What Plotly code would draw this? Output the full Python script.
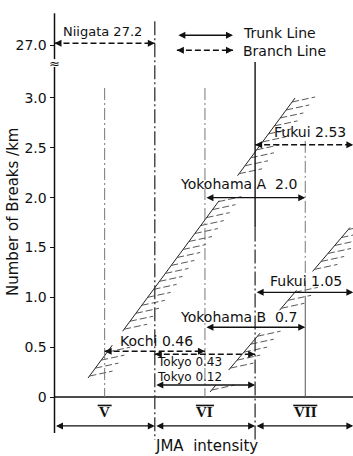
import plotly.graph_objects as go

# ---------------- data ----------------
y_tick_vals = [0, 0.5, 1.0, 1.5, 2.0, 2.5, 3.0, 27.0]
y_tick_text = ["0", "0.5", "1.0", "1.5", "2.0", "2.5", "3.0", "27.0"]

intensity_labels = ["V", "VI", "VII"]
intensity_centers = [5.0, 6.0, 7.0]
intensity_bounds = [4.5, 5.5, 6.5, 7.48]

rec_names = ["Niigata", "Fukui", "Yokohama A", "Fukui", "Yokohama B", "Kochi", "Tokyo", "Tokyo"]
rec_values = [27.2, 2.53, 2.0, 1.05, 0.7, 0.46, 0.43, 0.12]
rec_x0 = [4.5, 6.5, 6.0, 6.5, 6.0, 5.0, 5.5, 5.5]
rec_x1 = [5.5, 7.48, 7.0, 7.48, 7.0, 6.0, 6.5, 6.5]
rec_type = ["branch", "branch", "trunk", "trunk", "trunk", "branch", "branch", "trunk"]

# hatched bands (lower-left point, upper-right point)
band1_x = [4.834, 6.898]
band1_y = [0.19, 3.0]
band2_x = [6.05, 7.446]
band2_y = [0.05, 1.70]

# ---------------- layout helpers ----------------
INK = "#111111"
FONT = "DejaVu Sans"
X_RANGE = [4.5 - 54.5 / 100.3, 4.5 + (353 - 54.5) / 100.3]
Y_RANGE = [-(456 - 397) / 99.67, 397 / 99.67]


def yb(v):
    """broken-axis mapping"""
    return v if v <= 3.2 else 3.53 + (v - 27.0) * 0.1


fig = go.Figure()
shapes = []
annots = []


def seg(x0, y0, x1, y1, width=1.3, dash="solid", color=INK):
    shapes.append(dict(type="line", xref="x", yref="y", x0=x0, y0=y0, x1=x1, y1=y1,
                       line=dict(color=color, width=width, dash=dash)))


def head(x, y, ax, ay):
    annots.append(dict(x=x, y=y, ax=ax, ay=ay, xref="x", yref="y", axref="x", ayref="y",
                       text="", showarrow=True, arrowhead=2, arrowsize=1, arrowwidth=1.4,
                       arrowcolor=INK, standoff=0, startstandoff=0))


def double_arrow(x0, x1, y, kind):
    if kind == "trunk":
        annots.append(dict(x=x1, y=y, ax=x0, ay=y, xref="x", yref="y", axref="x", ayref="y",
                           text="", showarrow=True, arrowhead=2, arrowsize=1, arrowwidth=1.4,
                           arrowside="end+start", arrowcolor=INK, standoff=0, startstandoff=0))
    else:
        seg(x0, y, x1, y, width=1.5, dash="6px,3px")
        head(x1, y, x1 - 0.07, y)
        head(x0, y, x0 + 0.07, y)


def text(x, y, s, size=14, xanchor="left", yshift=0, family=FONT, angle=0):
    annots.append(dict(x=x, y=y, xref="x", yref="y", text=s, showarrow=False,
                       xanchor=xanchor, yanchor="middle", yshift=yshift, textangle=angle,
                       font=dict(family=family, size=size, color=INK)))


# ---------------- axes frame ----------------
seg(4.5, yb(27.0) + 0.32, 4.5, 3.39, width=1.5)
seg(4.5, 3.31, 4.5, -0.36, width=1.5)
text(4.5, 3.35, "≈", size=13, xanchor="center")
seg(4.5, 0, 7.49, 0, width=1.5)

# vertical guide lines
seg(5.0, 3.1, 5.0, 0, width=1, dash="12px,3px,2px,3px", color="#777777")
seg(6.0, 3.1, 6.0, 0, width=1, dash="12px,3px,2px,3px", color="#777777")
seg(5.5, 3.77, 5.5, -0.43, width=1.3, dash="14px,3px,2px,3px", color="#333333")
seg(6.5, 3.36, 6.5, 1.7, width=1.4)
seg(6.5, 1.7, 6.5, -0.43, width=1.3, dash="14px,3px,2px,3px", color="#333333")
seg(7.0, 2.57, 7.0, 1.0, width=1, dash="12px,3px,2px,3px", color="#777777")
seg(7.0, 1.0, 7.0, 0, width=1, color="#555555")

# ---------------- hatched bands ----------------
band1_segments = [(0.19, 0.52), (0.66, 1.97), (2.22, 3.0)]
band2_segments = [(0.05, 0.12), (0.27, 0.64), (0.87, 1.07), (1.26, 1.70)]


def band_traces(bx, by, segments):
    ex, ey, hx, hy = [], [], [], []
    slope = (bx[1] - bx[0]) / (by[1] - by[0])
    for (ya, yb_) in segments:
        xa = bx[0] + (ya - by[0]) * slope
        xb = bx[0] + (yb_ - by[0]) * slope
        ex += [xa, xb, None]
        ey += [ya, yb_, None]
        y = ya + 0.02
        while y < yb_:
            xe = bx[0] + (y - by[0]) * slope
            hx += [xe, xe + 0.23, None]
            hy += [y, y + 0.05, None]
            y += 0.08
    fig.add_trace(go.Scatter(x=ex, y=ey, mode="lines", line=dict(color="#222222", width=1),
                             showlegend=False, hoverinfo="skip"))
    fig.add_trace(go.Scatter(x=hx, y=hy, mode="lines",
                             line=dict(color="#444444", width=0.9, dash="7px,3px"),
                             showlegend=False, hoverinfo="skip"))


band_traces(band1_x, band1_y, band1_segments)
band_traces(band2_x, band2_y, band2_segments)

# ---------------- records ----------------
label_x = [4.56, 6.67, 5.73, 6.63, 5.73, 5.13, 5.5, 5.5]
label_dy = [12, 13, 14, 11, 10, 10, -8, 8]
label_size = [13, 14, 14, 14, 14, 14, 12, 12]
for i, name in enumerate(rec_names):
    yv = yb(rec_values[i])
    double_arrow(rec_x0[i], rec_x1[i], yv, rec_type[i])
    sep = "  " if name.startswith("Yokohama") else " "
    text(label_x[i], yv, f"{name}{sep}{rec_values[i]}", size=label_size[i], yshift=label_dy[i])

# ---------------- legend ----------------
double_arrow(5.72, 6.28, 3.63, "trunk")
double_arrow(5.72, 6.28, 3.48, "branch")
text(6.355, 3.63, "Trunk Line", size=14, yshift=2)
text(6.355, 3.48, "Branch Line", size=14, yshift=-1)

# ---------------- intensity scale below axis ----------------
bar_half = [0.07, 0.09, 0.12]
for lab, cx, hw in zip(intensity_labels, intensity_centers, bar_half):
    text(cx, -0.15, f"<b>{lab}</b>", size=15, xanchor="center", family="Liberation Serif")
    seg(cx - hw, -0.085, cx + hw, -0.085, width=1.6)
for a, b in zip(intensity_bounds[:-1], intensity_bounds[1:]):
    double_arrow(a, b, -0.29, "trunk")

text(6.02, -0.495, "JMA  intensity", size=15, xanchor="center")
text(4.08, 1.86, "Number of Breaks /km", size=15, xanchor="center", angle=-90)

fig.update_layout(
    width=353, height=456,
    margin=dict(l=0, r=0, t=0, b=0),
    paper_bgcolor="white", plot_bgcolor="white",
    shapes=shapes, annotations=annots,
    xaxis=dict(range=X_RANGE, visible=False, fixedrange=True),
    yaxis=dict(range=Y_RANGE, anchor="free", position=54.5 / 353, showline=False,
               showgrid=False, zeroline=False, ticks="outside", ticklen=5, tickwidth=1.3,
               tickcolor=INK, tickvals=[yb(v) for v in y_tick_vals], ticktext=y_tick_text,
               tickfont=dict(family=FONT, size=14, color=INK), fixedrange=True),
    showlegend=False,
)

fig.write_html("out.html")
